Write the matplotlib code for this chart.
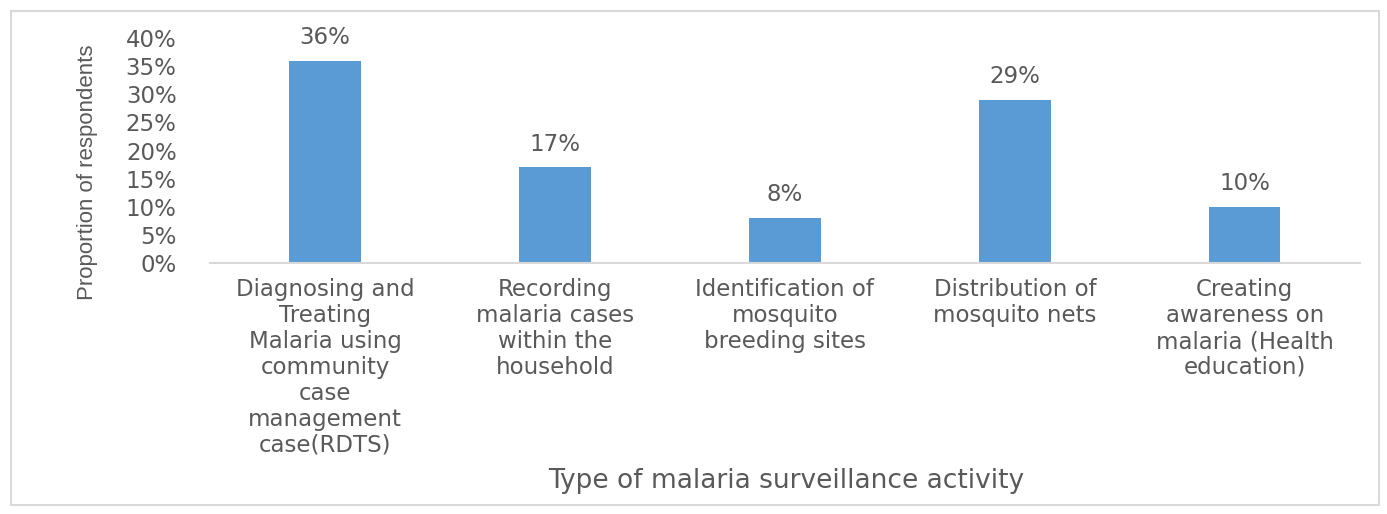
import matplotlib
matplotlib.use("Agg")
import matplotlib.pyplot as plt
from matplotlib.patches import Rectangle
from matplotlib.ticker import MultipleLocator, FuncFormatter

# survey results: share of respondents per surveillance activity
activities = [
    "Diagnosing and\nTreating\nMalaria using\ncommunity\ncase\nmanagement\ncase(RDTS)",
    "Recording\nmalaria cases\nwithin the\nhousehold",
    "Identification of\nmosquito\nbreeding sites",
    "Distribution of\nmosquito nets",
    "Creating\nawareness on\nmalaria (Health\neducation)",
]
proportions = [0.36, 0.17, 0.08, 0.29, 0.10]
value_labels = ["36%", "17%", "8%", "29%", "10%"]

TEXT = "#595959"
BAR = "#5b9bd5"
GRID = "#d9d9d9"

plt.rcParams["font.family"] = ["DejaVu Sans"]

fig = plt.figure(figsize=(13.87, 5.14), dpi=100)
fig.patches.append(Rectangle((0.008, 0.018), 0.986, 0.96, transform=fig.transFigure,
                             fill=False, edgecolor=GRID, linewidth=1.5))

ax = fig.add_axes([0.1514, 0.4883, 0.829, 0.4377])
x = range(len(activities))
ax.bar(x, proportions, width=0.31, color=BAR)

for xi, v, lab in zip(x, proportions, value_labels):
    ax.text(xi, v + 0.021, lab, ha="center", va="bottom", fontsize=16.5, color=TEXT)

ax.set_xlim(-0.5, len(activities) - 0.5)
ax.set_ylim(0, 0.40)
ax.yaxis.set_major_locator(MultipleLocator(0.05))
ax.yaxis.set_major_formatter(FuncFormatter(lambda v, p: f"{v*100:.0f}%"))

ax.set_xticks(list(x))
ax.set_xticklabels(activities, fontsize=16.5, color=TEXT, linespacing=1.16)
ax.tick_params(axis="x", length=0, pad=11)
ax.tick_params(axis="y", length=0, labelsize=16.5, labelcolor=TEXT, pad=24)

for side in ["top", "right", "left"]:
    ax.spines[side].set_visible(False)
ax.spines["bottom"].set_color(GRID)
ax.spines["bottom"].set_linewidth(1.5)

fig.text(88 / 1387, 1 - 172 / 514, "Proportion of respondents", rotation=90,
         ha="center", va="center", fontsize=16, color=TEXT, family="Liberation Sans")
fig.text(0.5665, 1 - 481 / 514, "Type of malaria surveillance activity", ha="center",
         va="center", fontsize=19, color=TEXT)

fig.savefig("out.png", dpi=100)
